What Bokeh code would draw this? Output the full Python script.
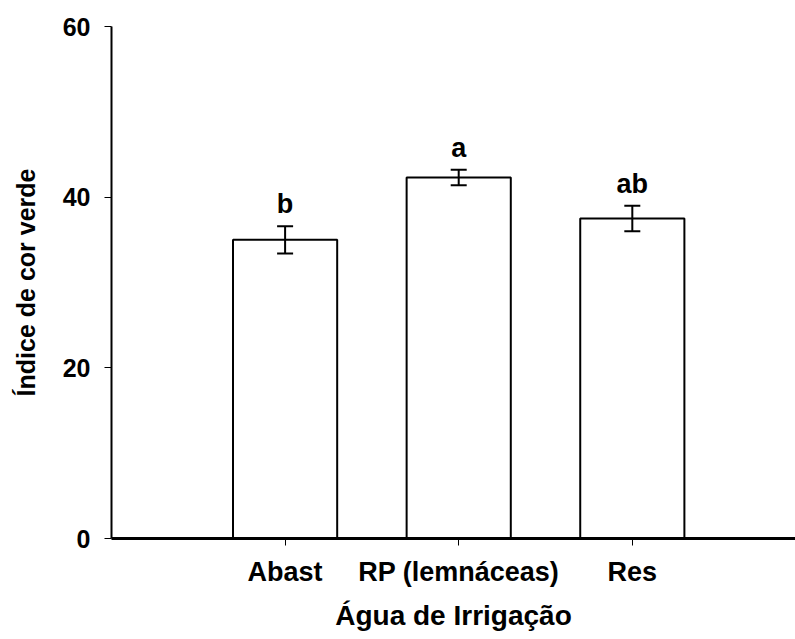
from bokeh.plotting import figure
from bokeh.models import ColumnDataSource, Whisker, FixedTicker, Range1d
from bokeh.embed import file_html
from bokeh.resources import INLINE
from bokeh.core.properties import value

categories = ["Abast", "RP (lemnáceas)", "Res"]
means = [35.0, 42.3, 37.5]
errors = [1.6, 0.9, 1.5]
letters = ["b", "a", "ab"]
y_ticks = [0, 20, 40, 60]

xpos = [i + 1 for i in range(len(categories))]
src = ColumnDataSource(dict(
    x=xpos, top=means,
    upper=[m + e for m, e in zip(means, errors)],
    lower=[m - e for m, e in zip(means, errors)],
    letter=letters,
))

FONT = "Liberation Sans"

p = figure(width=795, height=639, output_backend="svg", toolbar_location=None,
           x_range=Range1d(0, 3.94), y_range=Range1d(0, 60),
           min_border_left=111, min_border_right=0, min_border_top=26,
           min_border_bottom=101)
p.outline_line_color = None
p.xgrid.visible = False
p.ygrid.visible = False
p.background_fill_color = "white"
p.border_fill_color = "white"

p.vbar(x="x", top="top", bottom=0, width=0.6, source=src,
       fill_color="white", line_color="black", line_width=2)

w = Whisker(base="x", upper="upper", lower="lower", source=src,
            line_color="black", line_width=2, level="overlay")
w.upper_head.size = 16
w.lower_head.size = 16
w.upper_head.line_width = 2
w.lower_head.line_width = 2
p.add_layout(w)

p.text(x="x", y="upper", text="letter", source=src,
       text_align="center", text_baseline="bottom", y_offset=-7,
       text_font=value(FONT), text_font_style="bold",
       text_font_size="27px", text_color="black")

# axes
p.xaxis.ticker = FixedTicker(ticks=xpos)
p.xaxis.major_label_overrides = {x: c for x, c in zip(xpos, categories)}
p.xaxis.minor_tick_line_color = None
p.xaxis.major_tick_in = 0
p.xaxis.major_tick_out = 7
p.xaxis.axis_line_width = 3
p.xaxis.axis_line_color = "black"
p.xaxis.major_tick_line_color = "black"
p.xaxis.major_label_standoff = 11
p.xaxis.major_label_text_font = FONT
p.xaxis.major_label_text_font_style = "bold"
p.xaxis.major_label_text_font_size = "27px"
p.xaxis.major_label_text_color = "black"
p.xaxis.axis_label = "Água de Irrigação"
p.xaxis.axis_label_text_font = FONT
p.xaxis.axis_label_text_font_style = "bold"
p.xaxis.axis_label_text_font_size = "28px"
p.xaxis.axis_label_text_color = "black"
p.xaxis.axis_label_standoff = 10

p.yaxis.ticker = FixedTicker(ticks=y_ticks)
p.yaxis.minor_tick_line_color = None
p.yaxis.major_tick_in = 0
p.yaxis.major_tick_out = 7
p.yaxis.axis_line_width = 2
p.yaxis.axis_line_color = "black"
p.yaxis.major_tick_line_color = "black"
p.yaxis.major_label_standoff = 14
p.yaxis.major_label_text_font = FONT
p.yaxis.major_label_text_font_style = "bold"
p.yaxis.major_label_text_font_size = "25px"
p.yaxis.major_label_text_color = "black"
p.yaxis.axis_label = "Índice de cor verde"
p.yaxis.axis_label_text_font = FONT
p.yaxis.axis_label_text_font_style = "bold"
p.yaxis.axis_label_text_font_size = "25px"
p.yaxis.axis_label_text_color = "black"
p.yaxis.axis_label_standoff = 20

open("out.html", "w").write(file_html(p, INLINE))
